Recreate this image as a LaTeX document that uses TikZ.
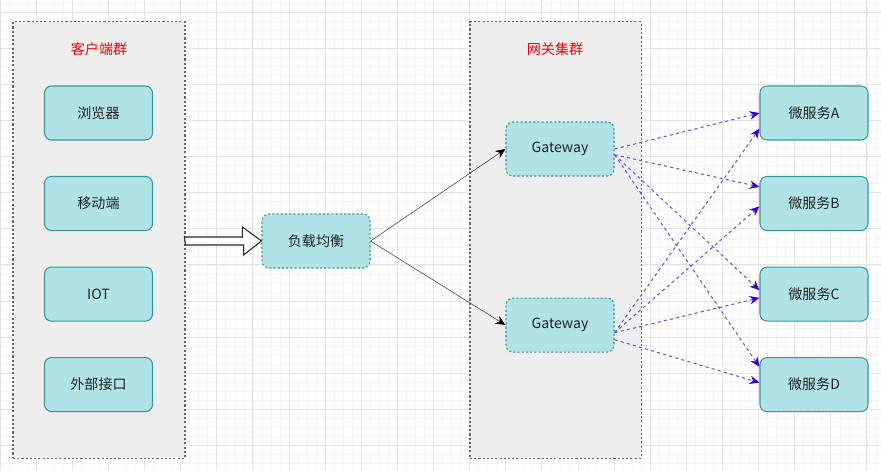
\documentclass[tikz,border=0pt]{standalone}
\usepackage{fontspec}
\setmainfont{Noto Sans CJK SC}
\usetikzlibrary{arrows.meta}

\definecolor{boxfill}{HTML}{B0E3E6}
\definecolor{boxline}{HTML}{3A969C}
\definecolor{groupfill}{HTML}{EEEEEE}
\definecolor{groupline}{HTML}{666666}
\definecolor{callline}{HTML}{7A4FE0}
\definecolor{calltip}{HTML}{3300CC}
\definecolor{textdark}{HTML}{222222}
\definecolor{gridminor}{HTML}{F4F4F4}
\definecolor{gridmajor}{HTML}{E3E3E3}

\begin{document}
\begin{tikzpicture}[x=0.025cm, y=-0.025cm, node distance=2.2625cm,
        group/.style={draw=groupline, fill=groupfill, line width=0.75pt, dash pattern=on 1.5pt off 1.5pt, minimum height=10.9cm, inner sep=0pt},
        title/.style={text=red},
        svc/.style={draw=boxline, fill=boxfill, rounded corners=5pt, line width=0.75pt, minimum width=2.7cm, minimum height=1.35cm, text=textdark},
        hop/.style={svc, dash pattern=on 1.5pt off 1.5pt},
        hollow/.style={draw=black!85, fill=white, line width=0.75pt},
        fwd/.style={draw=black!75, line width=0.4pt, -{Stealth[length=7pt,width=6pt,color=black]}},
        call/.style={draw=callline, line width=0.75pt, dash pattern=on 2.25pt off 2.25pt, -{Stealth[length=7pt,width=6pt,color=calltip]}}]
        \useasboundingbox (0,0) rectangle (881,470);

        % grid
        \foreach \i in {0,...,97} \draw[gridminor, line width=0.4pt] (\i*9.03,0) -- (\i*9.03,470);
        \foreach \i in {0,...,51} \draw[gridminor, line width=0.4pt] (0,3+\i*9.03) -- (881,3+\i*9.03);
        \foreach \i in {0,...,24} \draw[gridmajor, line width=0.6pt] (\i*36.12,0) -- (\i*36.12,470);
        \foreach \i in {0,...,12} \draw[gridmajor, line width=0.6pt] (0,12+\i*36.12) -- (881,12+\i*36.12);

        % groups
        \node[group, minimum width=4.3cm] (cl) at (99,240) {};
        \node[group, minimum width=4.275cm] (cg) at (555.5,240) {};
        \node[title] (t1) at (99,49) {客户端群};
        \node[title] (t2) at (555,49) {网关集群};

        % clients
        \node[svc] (c1) at (98.5,113) {浏览器};
        \node[svc] (c2) [below of=c1] {移动端};
        \node[svc] (c3) [below of=c2] {IOT};
        \node[svc] (c4) [below of=c3] {外部接口};

        \node[hop] (lb) at (316,241) {负载均衡};
        \node[hop] (g1) at (560,149) {Gateway};
        \node[hop] (g2) [below of=g1, node distance=4.4cm] {Gateway};

        % services
        \node[svc] (m1) at (814,113) {微服务A};
        \node[svc] (m2) [below of=m1] {微服务B};
        \node[svc] (m3) [below of=m2] {微服务C};
        \node[svc] (m4) [below of=m3] {微服务D};

        \draw[hollow] (cl.east |- lb.west) ++(0,4) -- ++(58,0) -- ++(0,10) -- (lb.west) -- ++(-19,-14) -- ++(0,10) -- ++(-58,0) -- cycle;
        \draw[fwd] (lb.east) -- (g1.west);
        \draw[fwd] (lb.east) -- (g2.west);

        \draw[call] (g1.east) -- (m1.west);
        \draw[call] (g1.-6) -- (m2.163);
        \draw[call] (g1.-6) -- (m3.176);
        \draw[call] (g1.-6) -- (m4.162);
        \draw[call] (g2.-8) -- (m1.196);
        \draw[call] (g2.-8) -- (m2.183);
        \draw[call] (g2.-8) -- (m3.184);
        \draw[call] (g2.-15) -- (m4.178);
    \end{tikzpicture}
\end{document}
